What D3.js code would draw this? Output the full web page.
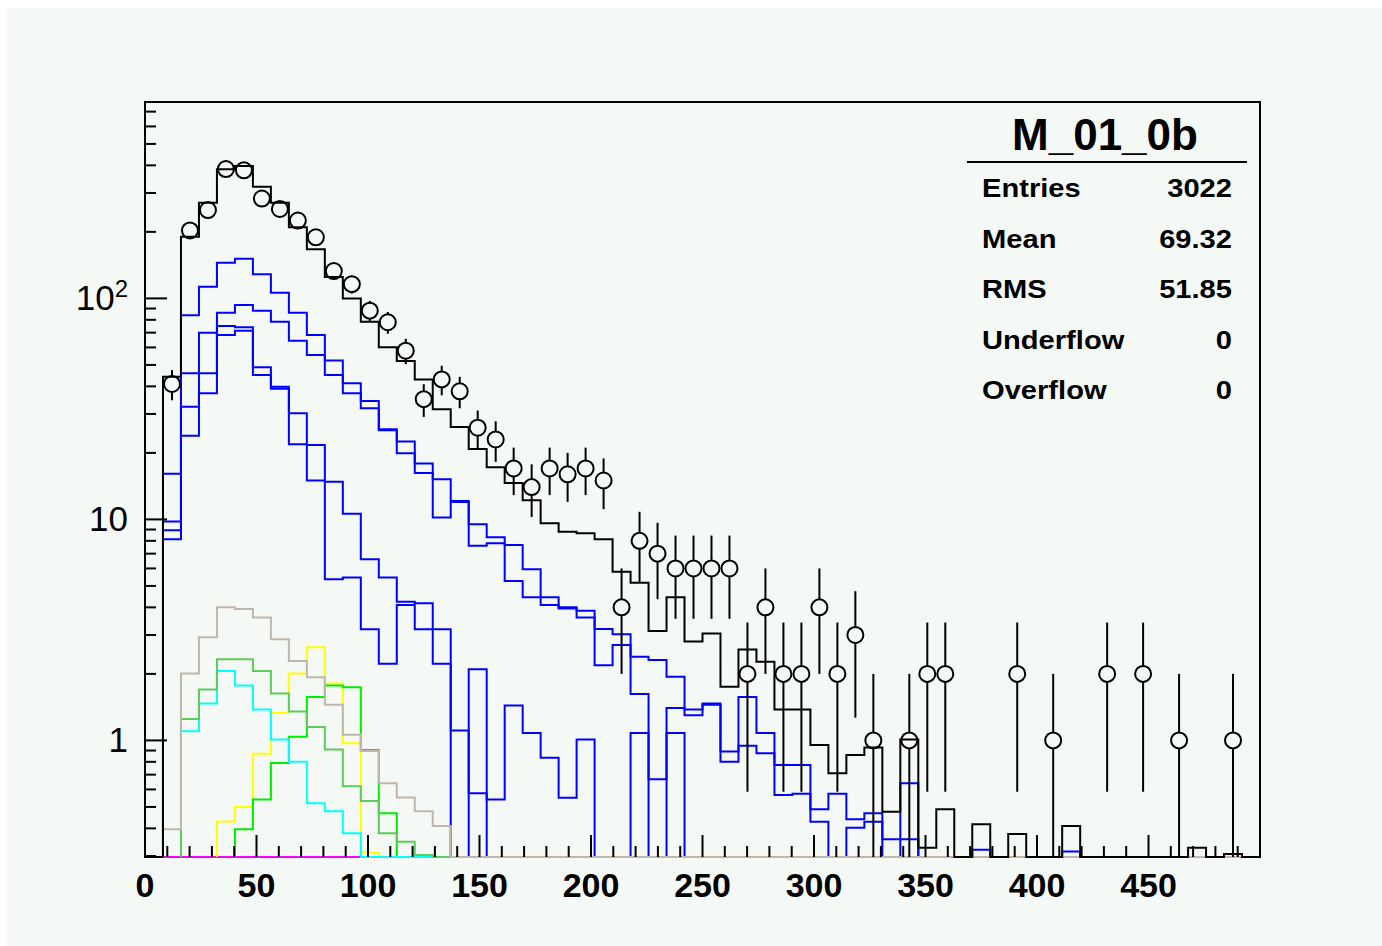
<!DOCTYPE html>
<html>
<head>
<meta charset="utf-8">
<script src="https://cdn.jsdelivr.net/npm/d3@7"></script>
<style>
  body { margin: 0; background: #ffffff; }
  svg { display: block; }
</style>
</head>
<body>
<script>
// ---- Histogram binning: 62 equal bins over [0, 500] ----
const nBins = 62;
const xLow = 0;
const xHigh = 500;

// Observed data (event counts per bin)
const dataCounts = [
  0, 41, 203, 251, 385, 380, 283, 254, 225, 189,
  133, 116, 88, 78, 58, 35, 43, 38, 26, 23,
  17, 14, 17, 16, 17, 15, 4, 8, 7, 6,
  6, 6, 6, 2, 4, 2, 2, 4, 2, 3,
  1, 0, 1, 2, 2, 0, 0, 0, 2, 0,
  1, 0, 0, 2, 0, 2, 0, 1, 0, 0,
  1, 0
];

// Total expectation (black)
const totalExpected = [
  0, 44.2, 190, 271, 384, 397, 320, 271, 210, 167,
  125, 100, 78.4, 60.1, 52.1, 43, 31.5, 26.2, 20.8, 17.2,
  14.6, 12.2, 9.6, 8.8, 8.65, 8.13, 5.8, 5.17, 3.13, 4.44,
  2.8, 3.05, 1.75, 2.58, 2.27, 1.38, 1.38, 0.953, 0.71, 0.86,
  0.93, 0.476, 1.01, 0.327, 0.488, 0, 0.418, 0, 0.377, 0,
  0, 0.41, 0, 0, 0, 0, 0, 0, 0.327, 0,
  0.306, 0
];

// Four blue components
const blueA = [
  0, 16.1, 84, 113, 145, 151, 128.5, 106, 86.1, 68.3,
  52.3, 41.3, 34.3, 25.6, 22.5, 17.9, 15.2, 12.1, 9.5, 8.3,
  7.65, 5.95, 4.44, 4.0, 3.86, 3.19, 3.02, 2.39, 2.31, 1.94,
  1.38, 1.47, 0.89, 1.57, 1.08, 0.774, 0.774, 0.488, 0.574, 0.44,
  0.468, 0.357, 0.64, 0, 0, 0, 0.32, 0, 0, 0,
  0, 0.314, 0, 0, 0, 0, 0, 0, 0, 0,
  0, 0
];
const blueB = [
  0, 9.78, 45.8, 70, 86.1, 93.3, 88, 78.5, 64.4, 55.5,
  45, 37.2, 31.8, 25.3, 19.9, 16.2, 10.2, 12.0, 7.6, 7.8,
  5.27, 4.44, 4.1, 3.95, 3.6, 2.19, 2.7, 1.62, 0.667, 1.40,
  1.30, 1.45, 0.80, 0.946, 0.874, 0.566, 0.574, 0.429, 0, 0.403,
  0.429, 0, 0.357, 0, 0, 0, 0, 0, 0, 0,
  0, 0, 0, 0, 0, 0, 0, 0, 0, 0,
  0, 0
];
const blueC = [
  0, 8.94, 32.3, 45.8, 75, 74, 48.8, 39.8, 30.2, 21.7,
  5.36, 5.46, 3.18, 2.22, 4.1, 3.18, 2.22, 0, 2.1, 0,
  0, 0, 0, 0, 0, 0, 0, 0, 0, 0,
  0, 0, 0, 0, 0, 0, 0, 0, 0, 0,
  0, 0, 0, 0, 0, 0, 0, 0, 0, 0,
  0, 0, 0, 0, 0, 0, 0, 0, 0, 0,
  0, 0
];
const blueD = [
  0, 8.13, 23.9, 37.2, 68.3, 71.3, 45, 39, 21.9, 15.0,
  14.8, 10.6, 6.6, 5.46, 4.24, 4.17, 3.18, 1.11, 0.576, 0.54,
  1.44, 1.08, 0.835, 0.55, 1.01, 0, 0, 1.08, 0, 1.08,
  0, 0, 0, 0, 0, 0, 0, 0, 0, 0,
  0, 0, 0, 0, 0, 0, 0, 0, 0, 0,
  0, 0, 0, 0, 0, 0, 0, 0, 0, 0,
  0, 0
];

// Smaller components
const tanComp = [
  0, 0.396, 2.01, 2.93, 4.0, 3.93, 3.6, 2.87, 2.29, 1.93,
  1.45, 1.06, 0.895, 0.64, 0.552, 0.478, 0.41
];
const greenComp = [
  0, 0, 1.25, 1.70, 2.33, 2.33, 2.06, 1.63, 1.35, 1.15,
  0.91, 0.62, 0.532, 0.38, 0.348, 0.303
];
const brightGreenComp = [
  0, 0, 0, 0, 0, 0.396, 0.54, 0.79, 1.04, 1.57,
  1.77, 1.74, 0.905, 0.468
];
const cyanComp = [
  0, 0, 1.10, 1.47, 2.06, 1.77, 1.38, 1.01, 0.80, 0.52,
  0.478, 0.38
];
const yellowComp = [
  0, 0, 0, 0, 0.43, 0.50, 0.87, 1.33, 2.01, 2.64,
  1.81, 0.97, 0.31
];
const magentaComp = [
  0, 0.05, 0.12, 0.18, 0.2, 0.2, 0.17, 0.14, 0.1, 0.08,
  0.05, 0.03
];

// Axis labels
const xTickValues = [0, 50, 100, 150, 200, 250, 300, 350, 400, 450];
const yLabelValues = [1, 10, 100];

// Statistics panel
const statsTitle = "M_01_0b";
const statsNames = ["Entries", "Mean", "RMS", "Underflow", "Overflow"];
const statsValues = ["3022", "69.32", "51.85", "0", "0"];

// ---- Drawing ----
const W = 1382, H = 946;
const frame = { left: 145, right: 1260, top: 102, bottom: 857 };
const bg = "#f5f9f5";

const svg = d3.select("body").append("svg")
  .attr("width", W).attr("height", H);

svg.append("rect").attr("x", 7).attr("y", 8)
  .attr("width", W - 7).attr("height", H - 8).attr("fill", bg);

const x = d3.scaleLinear().domain([xLow, xHigh]).range([frame.left, frame.right]);
const y = d3.scaleLog().domain([0.2968, 773.9]).range([frame.bottom, frame.top]);
const yMin = y.domain()[0];
const binW = (xHigh - xLow) / nBins;
const yClamp = v => (v > yMin ? y(v) : frame.bottom);

// Step outline from the first filled bin to the end of the axis
const line = d3.line().x(d => d[0]).y(d => d[1]);
function stepPoints(vals) {
  const full = d3.range(nBins).map(i => vals[i] || 0);
  const first = full.findIndex(v => v > 0);
  if (first < 0) return [];
  const pts = [[x(xLow + first * binW), frame.bottom]];
  for (let i = first; i < nBins; i++) {
    const yy = yClamp(full[i]);
    pts.push([x(xLow + i * binW), yy]);
    pts.push([x(xLow + (i + 1) * binW), yy]);
  }
  return pts;
}

const plot = svg.append("g");

// frame
plot.append("rect")
  .attr("x", frame.left).attr("y", frame.top)
  .attr("width", frame.right - frame.left).attr("height", frame.bottom - frame.top)
  .attr("fill", "none").attr("stroke", "#000").attr("stroke-width", 2);

const histLayers = [
  { vals: blueA, color: "#0000ff" },
  { vals: blueB, color: "#0000ff" },
  { vals: blueC, color: "#0000ff" },
  { vals: blueD, color: "#0000ff" },
  { vals: magentaComp, color: "#ff00ff" },
  { vals: yellowComp, color: "#ffff00" },
  { vals: brightGreenComp, color: "#00ee00" },
  { vals: cyanComp, color: "#00ffff" },
  { vals: greenComp, color: "#5ccc5c" },
  { vals: tanComp, color: "#c0b6aa" },
  { vals: totalExpected, color: "#000000" }
];

const clipId = "frameClip";
svg.append("defs").append("clipPath").attr("id", clipId)
  .append("rect").attr("x", frame.left - 1).attr("y", frame.top)
  .attr("width", frame.right - frame.left + 2).attr("height", frame.bottom - frame.top + 1);

const histG = plot.append("g").attr("clip-path", `url(#${clipId})`);
histLayers.forEach(h => {
  histG.append("path")
    .attr("d", line(stepPoints(h.vals)))
    .attr("fill", "none")
    .attr("stroke", h.color)
    .attr("stroke-width", 2);
});

// axis ticks (drawn inside the frame)
const tickG = plot.append("g").attr("stroke", "#000").attr("stroke-width", 2);
d3.range(0, 501, 10).forEach(v => {
  const major = v % 50 === 0;
  if (v === 0 || v === 500) return;
  tickG.append("line")
    .attr("x1", x(v)).attr("x2", x(v))
    .attr("y1", frame.bottom).attr("y2", frame.bottom - (major ? 22 : 11));
});
const yTicks = [];
[-1, 0, 1, 2].forEach(e => {
  for (let m = 1; m <= 9; m++) {
    const v = m * Math.pow(10, e);
    if (v >= yMin && v <= y.domain()[1]) yTicks.push({ v, major: m === 1 });
  }
});
yTicks.forEach(t => {
  tickG.append("line")
    .attr("x1", frame.left).attr("x2", frame.left + (t.major ? 22 : 11))
    .attr("y1", y(t.v)).attr("y2", y(t.v));
});

// x labels
const font = "'Liberation Sans', Arial, Helvetica, sans-serif";
plot.append("g").selectAll("text").data(xTickValues).join("text")
  .attr("x", d => x(d)).attr("y", 897)
  .attr("text-anchor", "middle")
  .attr("font-family", font).attr("font-weight", "bold").attr("font-size", 34)
  .attr("fill", "#000")
  .text(d => d);

// y labels (powers of ten)
const yl = plot.append("g").attr("font-family", font).attr("font-size", 35).attr("fill", "#000");
yLabelValues.forEach(v => {
  const t = yl.append("text").attr("x", 128).attr("y", y(v) + 12).attr("text-anchor", "end");
  if (v >= 100) {
    t.append("tspan").text("10");
    t.append("tspan").attr("dy", -13).attr("font-size", 24).text(Math.round(Math.log10(v)));
  } else {
    t.text(v);
  }
});

// data points with Poisson error bars
const r = 8;
const pts = dataCounts.map((n, i) => ({ n, cx: x(xLow + (i + 0.5) * binW) })).filter(d => d.n > 0);
const dg = plot.append("g").attr("clip-path", `url(#${clipId})`);
pts.forEach(d => {
  const cy = y(d.n);
  const e = Math.sqrt(d.n);
  const yHi = y(d.n + e);
  const yLo = yClamp(d.n - e);
  if (yHi < cy - r) dg.append("line").attr("x1", d.cx).attr("x2", d.cx)
    .attr("y1", yHi).attr("y2", cy - r).attr("stroke", "#000").attr("stroke-width", 2);
  if (yLo > cy + r) dg.append("line").attr("x1", d.cx).attr("x2", d.cx)
    .attr("y1", cy + r).attr("y2", yLo).attr("stroke", "#000").attr("stroke-width", 2);
  dg.append("circle").attr("cx", d.cx).attr("cy", cy).attr("r", r)
    .attr("fill", "none").attr("stroke", "#000").attr("stroke-width", 2);
});

// statistics panel
const st = svg.append("g").attr("font-family", font).attr("font-weight", "bold").attr("fill", "#000");
st.append("text").attr("x", 1105).attr("y", 150).attr("text-anchor", "middle")
  .attr("font-size", 44).text(statsTitle);
st.append("line").attr("x1", 967).attr("x2", 1247).attr("y1", 162).attr("y2", 162)
  .attr("stroke", "#000").attr("stroke-width", 2);
statsNames.forEach((name, i) => {
  const by = 197 + i * 50.5;
  st.append("text").attr("transform", `translate(982,${by}) scale(1.12,1)`)
    .attr("font-size", 26).text(name);
  st.append("text").attr("transform", `translate(1232,${by}) scale(1.12,1)`)
    .attr("text-anchor", "end").attr("font-size", 26).text(statsValues[i]);
});
</script>
</body>
</html>
